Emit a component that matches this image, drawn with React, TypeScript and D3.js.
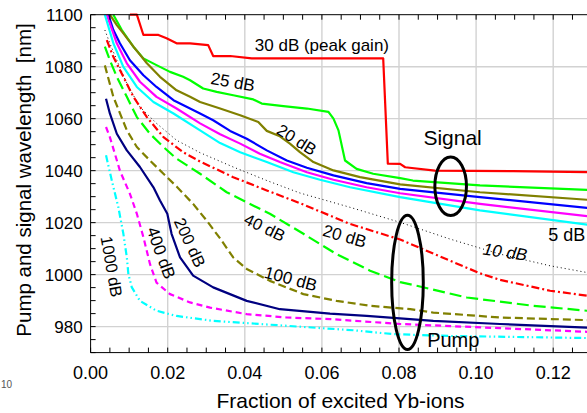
import React from 'react';
import * as d3 from 'd3';

// fraction of excited Yb-ions vs. wavelength (nm)
const signal30dB = [
  [0.0102, 1100], [0.012, 1100], [0.0137, 1092.2], [0.0176, 1092.2], [0.0197, 1090.9],
  [0.0223, 1089.0], [0.0258, 1089.0], [0.0305, 1088.3], [0.0318, 1084.1], [0.0362, 1084.1],
  [0.0418, 1083.2], [0.0759, 1083.2], [0.0771, 1042.7], [0.0803, 1042.6], [0.0816, 1041.3],
  [0.0893, 1040.0], [0.1096, 1039.8], [0.1288, 1039.4],
];
const signal25dB = [
  [0.0059, 1100], [0.0081, 1094.1], [0.0111, 1087.7], [0.0137, 1083.2], [0.0171, 1080.6],
  [0.0206, 1078.0], [0.024, 1076.1], [0.0258, 1074.8], [0.0292, 1071.6], [0.0327, 1070.3],
  [0.037, 1069.0], [0.0422, 1067.4], [0.0444, 1065.8], [0.05, 1064.8], [0.0561, 1063.9],
  [0.0617, 1062.6], [0.063, 1060.0], [0.0643, 1055.5], [0.066, 1043.9], [0.069, 1040.7],
  [0.0733, 1038.8], [0.0803, 1037.1], [0.0836, 1036.2], [0.101, 1034.3], [0.1288, 1032.6],
];
const signal20dB = [
  [0.005, 1100], [0.0068, 1096.0], [0.0085, 1092.8], [0.0111, 1087.7], [0.0146, 1081.3],
  [0.018, 1076.1], [0.0223, 1070.9], [0.0258, 1068.4], [0.0284, 1066.4], [0.0336, 1063.9],
  [0.0388, 1061.3], [0.0435, 1058.7], [0.0457, 1055.3], [0.0491, 1053.2], [0.0517, 1050.4],
  [0.0543, 1047.1], [0.0578, 1043.3], [0.063, 1040.1], [0.0699, 1037.5], [0.0803, 1034.7],
  [0.101, 1031.7], [0.1288, 1028.8],
];
const signalBlue = [
  [0.0046, 1100], [0.0059, 1094.1], [0.0076, 1089.0], [0.0102, 1082.5], [0.0137, 1076.7],
  [0.0171, 1072.2], [0.0215, 1067.1], [0.0258, 1063.9], [0.0284, 1062.0], [0.0318, 1059.4],
  [0.0362, 1055.3], [0.0405, 1052.3], [0.0457, 1047.8], [0.0509, 1043.9], [0.0561, 1041.1],
  [0.063, 1038.2], [0.0716, 1035.2], [0.0803, 1033.0], [0.101, 1029.8], [0.1288, 1025.7],
];
const signalMagenta = [
  [0.0042, 1100], [0.0068, 1089.0], [0.0094, 1081.3], [0.0128, 1074.2], [0.0171, 1068.4],
  [0.0223, 1063.9], [0.0284, 1058.2], [0.0336, 1054.0], [0.0388, 1050.4], [0.0439, 1046.5],
  [0.0491, 1043.3], [0.0561, 1039.4], [0.063, 1036.5], [0.0716, 1033.6], [0.0803, 1031.3],
  [0.101, 1027.2], [0.1288, 1022.5],
];
const signalCyan = [
  [0.0037, 1100], [0.0059, 1089.0], [0.0085, 1079.9], [0.012, 1072.2], [0.0163, 1066.4],
  [0.0215, 1062.0], [0.0284, 1055.5], [0.0336, 1050.6], [0.0388, 1047.1], [0.0457, 1043.3],
  [0.0526, 1039.4], [0.0595, 1036.5], [0.0673, 1033.6], [0.0803, 1029.8], [0.101, 1024.7],
  [0.1288, 1019.2],
];
const pump10dB = [
  [0.0037, 1094.1], [0.005, 1089.0], [0.0068, 1082.5], [0.0094, 1073.5], [0.0128, 1064.5],
  [0.0171, 1058.2], [0.0223, 1051.7], [0.0284, 1046.9], [0.037, 1041.4], [0.0457, 1036.2],
  [0.0543, 1031.4], [0.0673, 1025.9], [0.0803, 1020.1], [0.0932, 1013.7], [0.1062, 1007.9],
  [0.1192, 1003.4], [0.1288, 1000.8],
];
const pump20dB = [
  [0.0042, 1090.2], [0.0059, 1083.8], [0.0085, 1076.1], [0.0111, 1068.4], [0.0146, 1060.6],
  [0.0189, 1052.9], [0.024, 1047.1], [0.0284, 1043.5], [0.037, 1037.5], [0.0457, 1032.4],
  [0.0543, 1027.5], [0.0673, 1019.5], [0.0803, 1013.5], [0.0932, 1005.4], [0.101, 1000.5],
  [0.1062, 998.0], [0.1192, 993.8], [0.1288, 991.9],
];
const pump40dB = [
  [0.0037, 1087.7], [0.005, 1082.5], [0.0068, 1076.1], [0.0094, 1068.4], [0.012, 1060.6],
  [0.0154, 1054.2], [0.0189, 1049.1], [0.0223, 1044.6], [0.0284, 1038.8], [0.0353, 1031.7],
  [0.0431, 1025.9], [0.0465, 1023.4], [0.0552, 1015.7], [0.0638, 1007.9], [0.0725, 1001.5],
  [0.0803, 997.1], [0.0846, 995.7], [0.0976, 991.2], [0.1148, 988.0], [0.1288, 986.1],
];
const pump100dB = [
  [0.0037, 1080.5], [0.0059, 1068.4], [0.0094, 1055.5], [0.012, 1049.1], [0.0154, 1043.9],
  [0.0189, 1038.8], [0.0223, 1033.9], [0.0266, 1027.2], [0.0301, 1020.8], [0.0336, 1013.9],
  [0.037, 1006.6], [0.0405, 1002.2], [0.0465, 997.6], [0.0552, 992.5], [0.0638, 989.9],
  [0.0725, 988.0], [0.0829, 986.7], [0.0889, 985.4], [0.1062, 983.5], [0.1288, 982.5],
];
const pump200dB = [
  [0.004, 1067.7], [0.005, 1062.0], [0.0068, 1054.2], [0.0094, 1047.8], [0.0128, 1041.4],
  [0.0163, 1033.6], [0.018, 1028.5], [0.0199, 1023.4], [0.021, 1015.7], [0.0232, 1006.6],
  [0.0266, 999.6], [0.0318, 995.1], [0.0405, 989.9], [0.0491, 986.7], [0.0621, 985.0],
  [0.0716, 984.1], [0.0889, 982.2], [0.1062, 981.0], [0.1288, 979.6],
];
const pump400dB = [
  [0.004, 1056.8], [0.005, 1052.9], [0.0063, 1046.5], [0.0076, 1040.0], [0.0089, 1035.5],
  [0.0102, 1031.1], [0.012, 1023.4], [0.0137, 1014.4], [0.0154, 1004.1], [0.0171, 996.9],
  [0.0206, 992.5], [0.0258, 989.3], [0.031, 987.3], [0.0405, 984.8], [0.0509, 983.5],
  [0.0621, 982.9], [0.0803, 981.0], [0.1062, 979.4], [0.1288, 978.0],
];
const pump1000dB = [
  [0.004, 1045.9], [0.0055, 1036.2], [0.0072, 1025.9], [0.0085, 1015.7], [0.0094, 1006.6],
  [0.0098, 1000.2], [0.0107, 995.1], [0.0128, 989.9], [0.0171, 986.1], [0.0223, 984.1],
  [0.0318, 982.2], [0.0509, 980.3], [0.0681, 978.6], [0.0785, 977.1], [0.0932, 976.4],
  [0.1288, 975.6],
];

const xTicks = [0, 0.02, 0.04, 0.06, 0.08, 0.1, 0.12];
const yTicks = [980, 1000, 1020, 1040, 1060, 1080, 1100];

const series = [
  { data: signal30dB, color: '#ff0000', dash: null, width: 2.2 },
  { data: signal25dB, color: '#00ff00', dash: null, width: 2.2 },
  { data: signal20dB, color: '#808000', dash: null, width: 2.2 },
  { data: signalBlue, color: '#0000ff', dash: null, width: 2.2 },
  { data: signalMagenta, color: '#ff00ff', dash: null, width: 2.2 },
  { data: signalCyan, color: '#00ffff', dash: null, width: 2.2 },
  { data: pump10dB, color: '#000000', dash: '1,3', width: 1 },
  { data: pump20dB, color: '#ff0000', dash: '8,3,2,3', width: 2.2 },
  { data: pump40dB, color: '#00ff00', dash: '12,5', width: 2.2 },
  { data: pump100dB, color: '#808000', dash: '8,4', width: 2.2 },
  { data: pump200dB, color: '#000080', dash: null, width: 2.2 },
  { data: pump400dB, color: '#ff00ff', dash: '6,4', width: 2.2 },
  { data: pump1000dB, color: '#00ffff', dash: '7,3,1.5,3,1.5,3', width: 2.2 },
];

// curve labels: [text, fraction, wavelength, rotation, size, italic, anchor]
const labels = [
  ['30 dB (peak gain)', 0.06, 1086.0, 0, 17, false, 'middle'],
  ['25 dB', 0.0369, 1074.0, 10, 17, false, 'middle'],
  ['20 dB', 0.0535, 1052.0, 32, 16.5, false, 'middle'],
  ['Signal', 0.0939, 1050.0, 0, 21, false, 'middle'],
  ['5 dB', 0.1235, 1013.1, 0, 18, false, 'middle'],
  ['10 dB', 0.1075, 1008.6, 8, 17, true, 'middle'],
  ['20 dB', 0.0659, 1014.7, 16, 17, false, 'middle'],
  ['40 dB', 0.0452, 1018.2, 26, 16.5, false, 'middle'],
  ['100 dB', 0.0519, 998.3, 15, 17, false, 'middle'],
  ['200 dB', 0.0258, 1012.4, 65, 16.5, false, 'middle'],
  ['400 dB', 0.0182, 1008.3, 70, 17, false, 'middle'],
  ['1000 dB', 0.0055, 1003.1, 80, 16.5, false, 'middle'],
  ['Pump', 0.0873, 972.2, 0, 20, false, 'start'],
];

// marker ellipses: [fraction, wavelength, half-width fraction, half-height nm]
const ellipses = [
  [0.0934, 1034.0, 0.0041, 11.3],
  [0.0822, 997.0, 0.0041, 25.8],
];

const W = 587;
const H = 413;
const FONT = '"Liberation Sans", Arial, sans-serif';

export default function App() {
  const x = d3.scaleLinear().domain([0, 0.14]).range([90.6, 90.6 + 0.14 * 3855]);
  const y = d3.scaleLinear().domain([970, 1100]).range([352.6, 14.7]);
  const line = d3.line<number[]>().x(d => x(d[0])).y(d => y(d[1]));

  const left = x(0);
  const bottom = y(970);
  const top = y(1100);

  const xMinor = d3.range(0, 0.1401, 0.005);
  const yMinor = d3.range(970, 1100.1, 5);

  return (
    <svg width={W} height={H} style={{ position: 'absolute', left: 0, top: 0, background: '#fff' }}
      fontFamily={FONT}>
      <defs>
        <clipPath id="plot">
          <rect x={left} y={top - 2} width={W - left} height={bottom - top + 2} />
        </clipPath>
      </defs>

      {/* grid */}
      <g stroke="#d2d2d2" strokeWidth={1.4}>
        {xTicks.slice(1).map(t => <line key={'gx' + t} x1={x(t)} x2={x(t)} y1={top} y2={bottom} />)}
        {yTicks.slice(0, -1).map(t => <line key={'gy' + t} x1={left} x2={W} y1={y(t)} y2={y(t)} />)}
      </g>

      {/* curves */}
      <g clipPath="url(#plot)" fill="none" strokeLinejoin="round">
        {series.map((s, i) => (
          <path key={i} d={line(s.data as number[][]) || ''} stroke={s.color}
            strokeWidth={s.width} strokeDasharray={s.dash || undefined} />
        ))}
      </g>

      {/* axes frame and inward ticks */}
      <g stroke="#000" strokeWidth={1} fill="none">
        <line x1={left} x2={left} y1={top} y2={bottom} />
        <line x1={left} x2={W} y1={bottom} y2={bottom} />
        <line x1={left} x2={W} y1={top} y2={top} />
        {xMinor.map(t => (
          <g key={'tx' + t}>
            <line x1={x(t)} x2={x(t)} y1={bottom} y2={bottom - 5} />
            <line x1={x(t)} x2={x(t)} y1={top} y2={top + 5} />
          </g>
        ))}
        {yMinor.map(t => <line key={'ty' + t} x1={left} x2={left + 5} y1={y(t)} y2={y(t)} />)}
      </g>

      {/* tick labels */}
      <g fontSize={17} fill="#000">
        {yTicks.map(t => (
          <text key={'ly' + t} x={left - 8} y={y(t) + 6} textAnchor="end">{t}</text>
        ))}
        {xTicks.map(t => (
          <text key={'lx' + t} x={x(t)} y={379} textAnchor="middle" fontSize={18}>{t.toFixed(2)}</text>
        ))}
      </g>

      {/* axis titles */}
      <text x={340.5} y={408} textAnchor="middle" fontSize={21}>Fraction of excited Yb-ions</text>
      <text transform="translate(30.5,180) rotate(-90)" textAnchor="middle" fontSize={20.5}
        style={{ whiteSpace: 'pre' }}>{'Pump and signal wavelength  [nm]'}</text>

      {/* ellipses */}
      <g fill="none" stroke="#000" strokeWidth={3}>
        {ellipses.map((e, i) => (
          <ellipse key={i} cx={x(e[0])} cy={y(e[1])} rx={x(e[2]) - x(0)} ry={y(1000 - e[3]) - y(1000)} />
        ))}
      </g>

      {/* curve labels */}
      {labels.map((l, i) => {
        const [txt, fx, wl, rot, size, italic, anchor] = l as [string, number, number, number, number, boolean, string];
        return (
          <text key={i} transform={`translate(${x(fx)},${y(wl)}) rotate(${rot})`}
            textAnchor={anchor} dominantBaseline={anchor === 'start' || txt === 'Signal' || txt.startsWith('30') || txt === '5 dB' ? 'auto' : 'central'}
            fontSize={size} fontStyle={italic ? 'italic' : 'normal'} fill="#000">{txt}</text>
        );
      })}

      {/* small remnant label at the lower left corner */}
      <text x={1} y={388} fontSize={10} fill="#555">10</text>
    </svg>
  );
}
